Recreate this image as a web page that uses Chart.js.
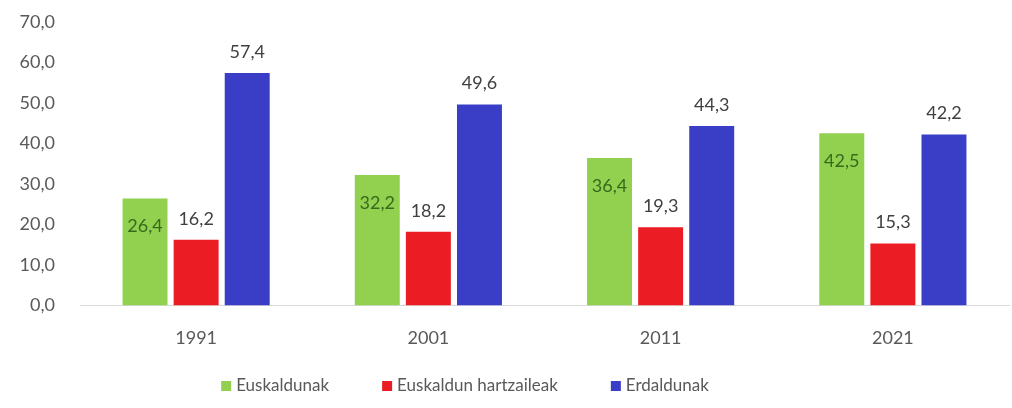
<!DOCTYPE html>
<html>
<head>
<meta charset="utf-8">
<script src="https://cdn.jsdelivr.net/npm/chart.js@4/dist/chart.umd.min.js"></script>
<style>
html,body{margin:0;padding:0;background:#fff;}
#wrap{width:1012px;height:408px;}
</style>
</head>
<body>
<div id="wrap"><canvas id="c" width="1012" height="408"></canvas></div>
<script>
const categories = ['1991', '2001', '2011', '2021'];
const seriesNames = ['Euskaldunak', 'Euskaldun hartzaileak', 'Erdaldunak'];
const euskaldunak = [26.4, 32.2, 36.4, 42.5];
const hartzaileak = [16.2, 18.2, 19.3, 15.3];
const erdaldunak = [57.4, 49.6, 44.3, 42.2];
const yTicks = [0, 10, 20, 30, 40, 50, 60, 70];

const colors = ['#92D050', '#EC1C24', '#3A3EC6'];
const fmt = v => v.toFixed(1).replace('.', ',');
const FONT = 'Lato, "Open Sans", sans-serif';

const labelPlugin = {
  id: 'barLabels',
  afterDatasetsDraw(chart) {
    const ctx = chart.ctx;
    ctx.save();
    ctx.font = '18px ' + FONT;
    ctx.textAlign = 'center';
    ctx.textBaseline = 'middle';
    chart.data.datasets.forEach((ds, di) => {
      const meta = chart.getDatasetMeta(di);
      meta.data.forEach((bar, i) => {
        const v = ds.data[i];
        if (di === 0) {
          ctx.fillStyle = '#356b1c';
          ctx.fillText(fmt(v), bar.x, bar.y + 28);
        } else {
          ctx.fillStyle = '#404040';
          ctx.fillText(fmt(v), bar.x, bar.y - 21);
        }
      });
    });
    ctx.restore();
  }
};

const legendPlugin = {
  id: 'customLegend',
  afterDraw(chart) {
    const ctx = chart.ctx;
    ctx.save();
    ctx.font = '17px ' + FONT;
    ctx.textBaseline = 'middle';
    ctx.textAlign = 'left';
    const box = 10, gap = 5, spacing = 53;
    const items = chart.data.datasets.map(ds => ({ text: ds.label, color: ds.backgroundColor, w: ctx.measureText(ds.label).width }));
    const total = items.reduce((s, it) => s + box + gap + it.w, 0) + spacing * (items.length - 1);
    let x = 465 - total / 2;
    const y = 386;
    items.forEach(it => {
      ctx.fillStyle = it.color;
      ctx.fillRect(x, y - box / 2, box, box);
      ctx.fillStyle = '#595959';
      ctx.fillText(it.text, x + box + gap, y);
      x += box + gap + it.w + spacing;
    });
    ctx.restore();
  }
};

new Chart(document.getElementById('c'), {
  type: 'bar',
  data: {
    labels: categories,
    datasets: [
      { label: seriesNames[0], data: euskaldunak, backgroundColor: colors[0] },
      { label: seriesNames[1], data: hartzaileak, backgroundColor: colors[1] },
      { label: seriesNames[2], data: erdaldunak, backgroundColor: colors[2] }
    ]
  },
  options: {
    responsive: false,
    animation: false,
    devicePixelRatio: 1,
    layout: { padding: { top: 22, right: 3, left: 0, bottom: 37 } },
    datasets: { bar: { categoryPercentage: 0.66, barPercentage: 0.88 } },
    plugins: {
      legend: { display: false },
      tooltip: { enabled: false }
    },
    scales: {
      x: {
        grid: { display: false, drawTicks: false },
        border: { display: true, color: '#d9d9d9', width: 1 },
        ticks: { color: '#595959', font: { family: FONT, size: 18 }, padding: 22 }
      },
      y: {
        min: 0, max: 70,
        afterFit(s) { s.width = 80; s.paddingTop = 0; s.paddingBottom = 0; },
        afterBuildTicks(s) { s.ticks = yTicks.map(v => ({ value: v })); },
        grid: { display: false, drawTicks: false },
        border: { display: false },
        ticks: {
          color: '#595959', font: { family: FONT, size: 18 }, padding: 25,
          callback: v => fmt(v)
        }
      }
    }
  },
  plugins: [labelPlugin, legendPlugin]
});
</script>
</body>
</html>
